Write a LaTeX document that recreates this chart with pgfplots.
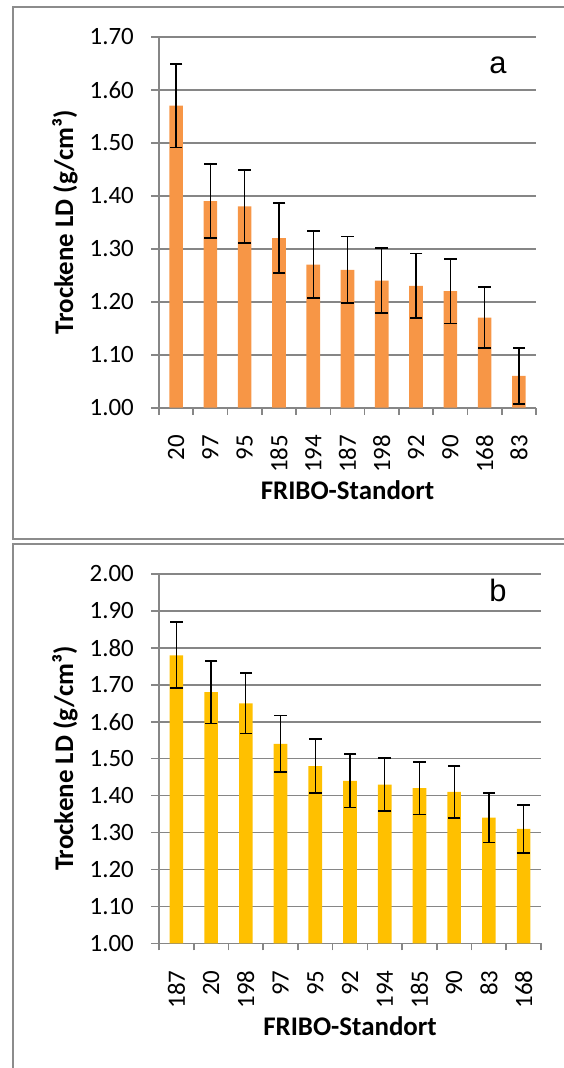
\documentclass[border=0pt]{standalone}
\usepackage{fontspec}
\setmainfont{Carlito}
\newfontfamily\arialf{Liberation Sans}
\usepackage{pgfplots}
\usepackage{pgfplotstable}
\pgfplotsset{compat=1.18}
\definecolor{barA}{HTML}{F79646}
\definecolor{barB}{HTML}{FFC000}
\definecolor{gridc}{HTML}{868686}
\definecolor{framec}{HTML}{8C8C8C}

\pgfplotstableread{
x y e
0 1.57 0.079
1 1.39 0.070
2 1.38 0.069
3 1.32 0.066
4 1.27 0.063
5 1.26 0.063
6 1.24 0.062
7 1.23 0.061
8 1.22 0.061
9 1.17 0.058
10 1.06 0.053
}\dataA

\pgfplotstableread{
x y e
0 1.78 0.089
1 1.68 0.085
2 1.65 0.082
3 1.54 0.077
4 1.48 0.074
5 1.44 0.072
6 1.43 0.072
7 1.42 0.071
8 1.41 0.070
9 1.34 0.067
10 1.31 0.065
}\dataB

\pgfplotsset{
  mystyle/.style={
    scale only axis,
    xmin=-0.5, xmax=10.5,
    axis x line*=bottom, axis y line*=left,
    axis line style={draw=gridc, line width=1.6bp},
    ymajorgrids,
    major grid style={draw=gridc, line width=1.6bp},
    tick align=outside,
    xtick={0,...,10},
    major x tick style={draw=none},
    minor xtick={-0.5,0.5,...,10.5},
    minor x tick style={draw=gridc, line width=1.6bp},
    minor tick length=7bp,
    major y tick style={draw=gridc, line width=1.6bp},
    major tick length=8bp,
    tick label style={font=\fontsize{25}{30}\selectfont, text=black},
    xticklabel style={rotate=90, anchor=east, inner sep=0pt},
    xticklabel shift=19bp,
    yticklabel style={anchor=east, inner sep=0pt,
      /pgf/number format/.cd, fixed, fixed zerofill, precision=2, assume math mode=true},
    yticklabel shift=17bp,
    every axis x label/.style={at={([yshift=-92bp]axis description cs:0.5,0)}, anchor=base},
    every axis y label/.style={at={([xshift=-94bp]axis description cs:0,0.5)}, rotate=90, anchor=center},
    label style={font=\fontsize{27}{32}\selectfont\bfseries},
    xlabel={FRIBO-Standort},
    ylabel={Trockene LD (g/cm³)},
  },
  errstyle/.style={
    forget plot, draw=none, mark=none,
    error bars/.cd,
      y dir=both, y explicit,
      error mark=none,
      error bar style={draw=black, line width=1.3bp},
  },
  capstyle/.style={
    forget plot, only marks, mark=-, mark size=6.3bp,
    mark options={draw=black, line width=1.8bp},
  },
}

\begin{document}
\begin{tikzpicture}
\path[use as bounding box] (0,0) rectangle (564bp,-1068bp);
\clip (0,0) rectangle (564bp,-1068bp);
\draw[framec, line width=1.7bp] (13bp,-7.3bp) rectangle (620bp,-539.3bp);
\draw[framec, line width=1.7bp] (13bp,-544.3bp) rectangle (620bp,-1120bp);

\begin{axis}[mystyle,
  at={(159bp,-407.7bp)}, anchor=south west,
  width=377bp, height=371bp,
  ymin=1.0, ymax=1.7,
  ytick={1.0,1.1,1.2,1.3,1.4,1.5,1.6,1.7},
  xticklabels={20,97,95,185,194,187,198,92,90,168,83},
]
\addplot[ybar, bar width=13.6bp, fill=barA, draw=none] table[x=x, y=y] {\dataA};
\addplot[errstyle] table[x=x, y=y, y error=e] {\dataA};
\addplot[capstyle] table[x=x, y expr=\thisrow{y}+\thisrow{e}] {\dataA};
\addplot[capstyle] table[x=x, y expr=\thisrow{y}-\thisrow{e}] {\dataA};
\end{axis}
\node[font=\arialf\fontsize{31}{36}\selectfont, anchor=base, inner sep=0pt] at (498bp,-73.3bp) {a};

\begin{axis}[mystyle,
  at={(159bp,-943.3bp)}, anchor=south west,
  width=382bp, height=369.3bp,
  ymin=1.0, ymax=2.0,
  ytick={1.0,1.1,1.2,1.3,1.4,1.5,1.6,1.7,1.8,1.9,2.0},
  xticklabels={187,20,198,97,95,92,194,185,90,83,168},
]
\addplot[ybar, bar width=13.6bp, fill=barB, draw=none] table[x=x, y=y] {\dataB};
\addplot[errstyle] table[x=x, y=y, y error=e] {\dataB};
\addplot[capstyle] table[x=x, y expr=\thisrow{y}+\thisrow{e}] {\dataB};
\addplot[capstyle] table[x=x, y expr=\thisrow{y}-\thisrow{e}] {\dataB};
\end{axis}
\node[font=\arialf\fontsize{31}{36}\selectfont, anchor=base, inner sep=0pt] at (498bp,-601.7bp) {b};
\end{tikzpicture}
\end{document}
